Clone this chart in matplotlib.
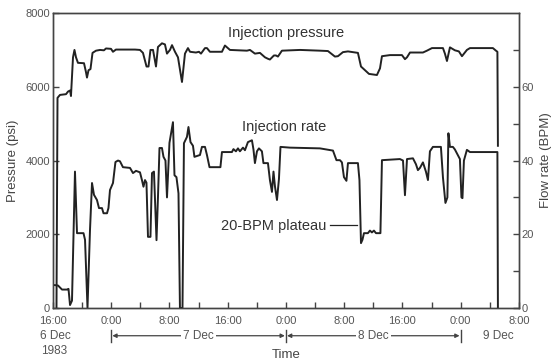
import matplotlib.pyplot as plt
import matplotlib.transforms as mtransforms

plt.rcParams['font.family'] = ['Liberation Sans', 'DejaVu Sans']

# hours since 16:00, 6 Dec 1983
pres_t = [0.48, 0.62, 0.96, 1.79, 2.06, 2.34, 2.47, 2.75, 2.95, 3.16, 3.43, 4.26, 4.53, 4.67,
          4.88, 5.15, 5.43, 5.91, 6.46, 7.0, 7.28, 7.97, 8.24, 8.65, 11.26, 11.95, 12.36,
          12.85, 13.12, 13.39, 13.74, 14.15, 14.42, 14.97, 15.38, 15.66, 16.07, 16.35, 16.76,
          17.17, 17.72, 18.13, 18.54, 18.82, 19.64, 20.05, 20.33, 20.88, 21.15, 21.56, 22.25,
          23.21, 23.62, 24.31, 26.64, 27.06, 27.74, 28.43, 29.12, 29.53, 29.8, 30.35, 30.63,
          30.9, 31.45, 33.93, 36.67, 37.77, 38.73, 39.14, 39.83, 40.52, 41.89, 42.31, 42.86,
          43.41, 44.5, 44.92, 45.19, 46.29, 47.94, 48.35, 48.63, 49.04, 50.82, 51.37, 52.06,
          53.57, 53.84, 54.12, 54.53, 55.21, 55.76, 56.18, 56.86, 57.28, 60.43, 60.85, 61.05,
          61.12]
pres_psi = [0, 5700, 5780, 5800, 5870, 5900, 5750, 6800, 7000, 6800, 6650, 6640, 6400, 6250,
            6450, 6480, 6920, 6980, 7000, 6990, 7040, 7030, 6950, 7010, 7010, 7000, 6920,
            6550, 6550, 7000, 7000, 6550, 7080, 7180, 7150, 6900, 7000, 7130, 6950,
            6800, 6130, 6900, 7050, 6950, 6930, 6950, 6900, 7050, 7050, 6950, 6950,
            6950, 7120, 7000, 6980, 7000, 6900, 6920, 6800, 6760, 6740, 6850, 6850,
            6820, 6980, 7000, 6980, 6970, 6820, 6830, 6940, 6960, 6920, 6550, 6450,
            6350, 6320, 6500, 6830, 6860, 6860, 6750, 6800, 6930, 6930, 6980, 7050,
            7050, 6900, 6700, 7070, 6990, 6960, 6830, 7000, 7050, 7050, 6980, 6950,
            4400]

rate_t = [0.27, 0.69, 1.24, 1.92, 2.13, 2.34, 2.61, 3.02, 3.30, 4.19, 4.40, 4.74, 5.08, 5.36,
          5.63, 6.04, 6.32, 6.73, 6.94, 7.42, 7.62, 7.83, 8.24, 8.58, 8.93, 9.2, 9.61, 10.58,
          10.99, 11.4, 11.95, 12.22, 12.43, 12.64, 12.84, 13.05, 13.39, 13.6, 13.87, 14.22,
          14.42, 14.63, 14.97, 15.18, 15.45, 15.66, 16.0, 16.48, 16.69, 16.96, 17.24, 17.44,
          17.79, 17.99, 18.4, 18.61, 18.89, 19.23, 19.43, 20.19, 20.46, 20.88, 21.15, 21.5,
          23.0, 23.21, 24.58, 24.79, 25.13, 25.41, 25.68, 26.1, 26.37, 26.78, 27.33, 27.54,
          27.74, 28.02, 28.29, 28.7, 28.91, 29.53, 29.8, 30.08, 30.29, 30.49, 30.77, 31.04,
          31.25, 32.55, 36.67, 38.46, 38.94, 39.42, 39.69, 39.97, 40.31, 40.52, 41.89, 42.1,
          42.31, 42.51, 42.72, 43.26, 43.54, 43.81, 44.09, 44.37, 44.98, 45.19, 47.66, 48.08,
          48.35, 48.63, 49.45, 49.86, 50.13, 50.41, 50.82, 51.23, 51.51, 51.78, 52.19, 53.29,
          53.57, 53.91, 54.18, 54.32, 54.53, 54.94, 55.21, 55.9, 56.11, 56.25, 56.45, 56.86,
          57.28, 61.05, 61.12]
rate_bpm = [6.2, 6.1, 5.0, 5.0, 5.2, 0.8, 2.0, 37, 20.3, 20.3, 18.5, 0, 21, 33.9,
            30.7, 29.3, 27.1, 27.1, 25.7, 25.7, 27.1, 32.0, 33.9, 39.6, 40.0, 39.8, 38.2, 38.0,
            36.6, 37.2, 36.8, 34.7, 32.9, 34.7, 34.0, 19.3, 19.3, 36.6, 37.0, 18.4,
            30, 43.4, 43.4, 41.0, 40.0, 30.0, 44.8, 50.4, 36.0, 35.5, 31.1, 0,
            0, 44.7, 46.4, 49.1, 45.0, 44.0, 41.0, 41.5, 43.7, 43.7, 41.5, 38.2,
            38.2, 42.3, 42.3, 43.1, 42.5, 43.3, 42.5, 43.5, 42.8, 45.0, 45.5, 43.0,
            39.3, 42.5, 43.3, 42.5, 39.3, 39.3, 34.7, 31.5, 37, 33, 29.3, 35,
            43.7, 43.5, 43.3, 42.7, 40.1, 40.1, 39.5, 35.5, 34.5, 39.3, 39.3, 34.7,
            17.6, 18.5, 20.3, 20.3, 21.0, 20.5, 21.0, 20.3, 20.3, 40.1, 40.4, 40.0,
            30.6, 40.4, 40.6, 39, 37.4, 38, 39.5, 37, 34.7, 42.5, 43.7, 43.7,
            35.4, 28.5, 30, 47.4, 43.7, 43.7, 43.0, 40.4, 30, 29.8, 40, 42.9,
            42.3, 42.3, 0]

hour_ticks = list(range(0, 65, 4))
hour_labels = ['16:00', '', '0:00', '', '8:00', '', '16:00', '', '0:00', '', '8:00', '',
               '16:00', '', '0:00', '', '8:00']
day_bounds = [8, 32, 56]
day_names = ['7 Dec', '8 Dec']

ink = '#222222'
grey = '#444444'

fig = plt.figure(figsize=(5.52, 3.63), dpi=100)
ax = fig.add_axes([0.096, 0.1515, 0.844, 0.8125])
ax2 = ax.twinx()

ax.plot(pres_t, pres_psi, color=ink, lw=1.4)
ax2.plot(rate_t, rate_bpm, color=ink, lw=1.4)

ax.set_xlim(0, 64)
ax.set_ylim(0, 8000)
ax2.set_ylim(0, 80)
ax.set_xticks(hour_ticks)
ax.set_xticklabels(hour_labels)
ax.set_yticks([0, 2000, 4000, 6000, 8000])
ax2.set_yticks(range(0, 80, 10))
ax2.set_yticklabels(['0', '', '20', '', '40', '', '60', ''])

for a in (ax, ax2):
    for s in a.spines.values():
        s.set_color(grey)
        s.set_linewidth(1.0)
    a.tick_params(direction='in', length=4, width=1, color=grey, labelsize=8,
                  labelcolor='#555555', pad=2)
ax.tick_params(axis='x', pad=6)

ax.set_ylabel('Pressure (psi)', fontsize=9.5, color='#444444', labelpad=5)
ax2.set_ylabel('Flow rate (BPM)', fontsize=9.5, color='#444444', labelpad=4)
ax.set_xlabel('Time', fontsize=9.5, color='#444444', labelpad=16)

ax.text(32.0, 7460, 'Injection pressure', ha='center', va='center', fontsize=10.5, color='#333333')
ax.text(31.8, 4910, 'Injection rate', ha='center', va='center', fontsize=10.5, color='#333333')
ax.text(37.6, 2230, '20-BPM plateau', ha='right', va='center', fontsize=10.5, color='#333333')
ax.plot([38.0, 41.8], [2250, 2250], color=ink, lw=0.9)

# date row below the hour labels
tr = mtransforms.blended_transform_factory(ax.transData, ax.transAxes)
row = -0.094
ax.text(0.3, row, '6 Dec', transform=tr, ha='center', va='center', fontsize=8.5, color='#555555')
ax.text(0.1, row - 0.052, '1983', transform=tr, ha='center', va='center', fontsize=8.5, color='#555555')
for b in day_bounds:
    ax.plot([b, b], [row - 0.02, row + 0.02], transform=tr, color=grey, lw=1, clip_on=False)
for i, name in enumerate(day_names):
    a0, a1 = day_bounds[i], day_bounds[i + 1]
    ax.annotate('', xy=(a0 + 0.15, row), xytext=(a1 - 0.15, row), xycoords=tr, textcoords=tr,
                arrowprops=dict(arrowstyle='<|-|>', color=grey, lw=0.9, mutation_scale=6,
                                shrinkA=0, shrinkB=0), annotation_clip=False)
    ax.text((a0 + a1) / 2, row, name, transform=tr, ha='center', va='center', fontsize=8.5,
            color='#555555', bbox=dict(facecolor='white', edgecolor='none', pad=1.5))
ax.text(61.2, row, '9 Dec', transform=tr, ha='center', va='center', fontsize=8.5, color='#555555')

fig.savefig('out.png', dpi=100)
